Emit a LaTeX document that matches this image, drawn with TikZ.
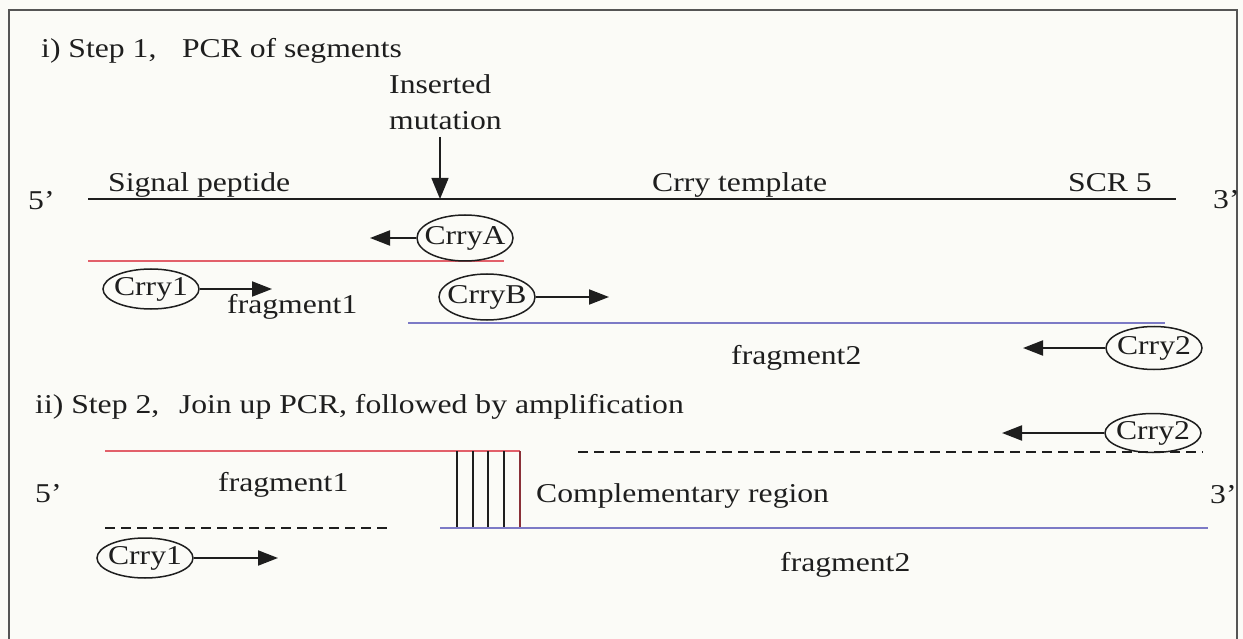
\documentclass[tikz,border=0pt]{standalone}
\usepackage{fontspec}
\setmainfont{Liberation Serif}
\usetikzlibrary{arrows.meta,shapes.geometric}
\definecolor{ink}{HTML}{1E1E1E}
\definecolor{paper}{HTML}{FBFBF7}
\definecolor{redstrand}{HTML}{E2606A}
\definecolor{bluestrand}{HTML}{7C7AC6}
\definecolor{framegray}{HTML}{555555}
\definecolor{joinred}{HTML}{8A3038}

\begin{document}
\begin{tikzpicture}[x=1pt,y=-1pt,
  txt/.style={font=\fontsize{27.2}{32}\selectfont, text=ink, inner sep=0pt, xscale=1.164},
  lbl/.style={txt, anchor=base west},
  primer/.style={ellipse, draw=ink, line width=1.5pt, minimum width=96pt,
    minimum height=42pt, inner sep=0pt, label={[txt]center:#1}},
  template/.style={draw=ink, line width=2pt},
  redline/.style={draw=redstrand, line width=1.6pt},
  blueline/.style={draw=bluestrand, line width=1.6pt},
  dashstrand/.style={draw=ink, line width=1.5pt, dash pattern=on 10pt off 6pt},
  rung/.style={draw=ink, line width=1.6pt},
  fwd/.style={draw=ink, line width=2pt, -{Triangle[length=20pt,width=15pt]}},
  mutarrow/.style={draw=ink, line width=1.4pt, -{Triangle[length=21pt,width=17pt]}}
]
% page and frame
\fill[paper] (0,0) rectangle (1243,639);
\useasboundingbox (0,0) rectangle (1243,639);
\draw[framegray, line width=2pt] (9,700) -- (9,10) -- (1237,10) -- (1237,700);

% ---------- Step 1 ----------
\node[lbl] (t1) at (41,58) {i) Step 1,\hspace{22pt}PCR of segments};
\node[lbl] (ins) at (389,94) {Inserted};
\node[lbl] (mut) at (389,130) {mutation};
\coordinate (mtop) at (440,137);
\coordinate (mtip) at (440,199);
\draw[mutarrow] (mtop) -- (mtip);

\node[lbl] (five1) at (28,210) {5’};
\node[lbl] (sig) at (108,192) {Signal peptide};
\node[lbl] (tmpl) at (652,192) {Crry template};
\node[lbl] (scr) at (1068,192) {SCR 5};
\node[lbl] (three1) at (1213,209) {3’};
\draw[template] (88,199) -- (1176,199);

% fragment 1 primers
\draw[redline] (88,261) -- (504,261);
\node[primer=CrryA, minimum height=46pt] (pA) at (465,238) {};
\coordinate (pAtip) at (370,238);
\draw[fwd] (pA.west) -- (pAtip);
\node[primer=Crry1, minimum height=40pt] (p1) at (151,289) {};
\coordinate (p1tip) at (272,289);
\draw[fwd] (p1.east) -- (p1tip);
\node[lbl] (frag1a) at (227,313) {fragment1};

% fragment 2 primers
\draw[blueline] (408,323) -- (1165,323);
\node[primer=CrryB, minimum height=46pt] (pB) at (487,297) {};
\coordinate (pBtip) at (609,297);
\draw[fwd] (pB.east) -- (pBtip);
\node[lbl] (frag2a) at (731,364) {fragment2};
\node[primer=Crry2, minimum height=43pt] (p2) at (1154,348) {};
\coordinate (p2tip) at (1023,348);
\draw[fwd] (p2.west) -- (p2tip);

% ---------- Step 2 ----------
\node[lbl] (t2) at (35,413) {ii) Step 2,\hspace{17pt}Join up PCR, followed by amplification};

\draw[redline] (105,451) -- (520,451);
\draw[dashstrand] (578,452) -- (1203,452);
\node[primer=Crry2, minimum height=39pt] (q2) at (1153,433) {};
\coordinate (q2tip) at (1002,433);
\draw[fwd] (q2.west) -- (q2tip);

\node[lbl] (frag1b) at (218,491) {fragment1};
\node[lbl] (five2) at (35,502) {5’};
\node[lbl] (comp) at (536,502) {Complementary region};
\node[lbl] (three2) at (1210,503) {3’};

% overlap of the two fragments
\foreach \x in {457,473,488,504} \draw[rung] (\x,451) -- (\x,528);
\draw[rung, draw=joinred] (520,451) -- (520,528);

\draw[dashstrand] (105,528) -- (393,528);
\draw[blueline] (440,528) -- (1208,528);
\node[primer=Crry1, minimum height=40pt] (q1) at (145,558) {};
\coordinate (q1tip) at (278,558);
\draw[fwd] (q1.east) -- (q1tip);
\node[lbl] (frag2b) at (780,571) {fragment2};
\end{tikzpicture}
\end{document}
